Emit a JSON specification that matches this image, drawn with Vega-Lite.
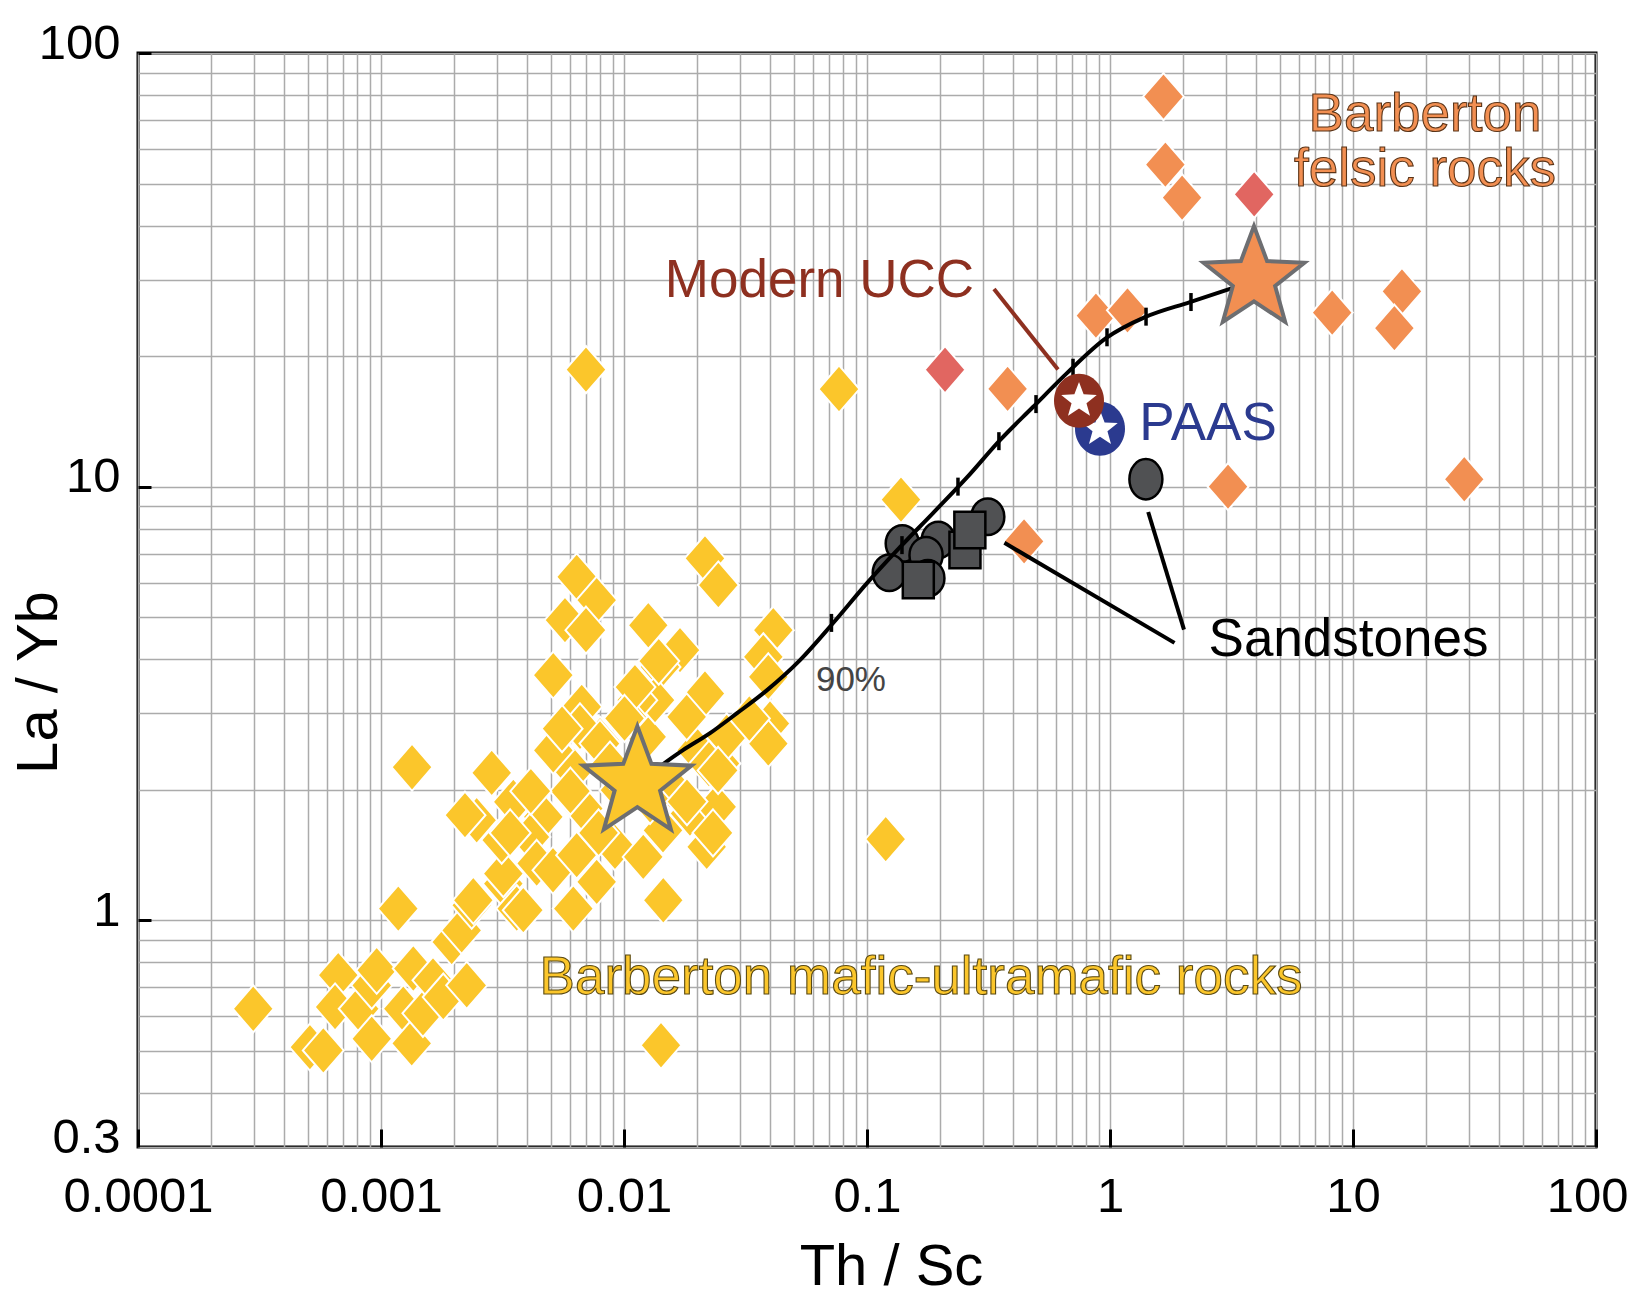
{
  "$schema": "https://vega.github.io/schema/vega-lite/v6.json",
  "width": 1458,
  "height": 1094,
  "autosize": {"type": "none"},
  "padding": {"left": 138, "top": 53, "right": 36, "bottom": 157},
  "background": "white",
  "config": {
    "view": {"stroke": "black", "strokeWidth": 3},
    "font": "Liberation Sans, Arial, sans-serif"
  },
  "datasets": {
    "mafic": [
      {"x":0.000298,"y":0.625},{"x":0.00051,"y":0.51},{"x":0.000579,"y":0.501},{"x":0.000667,"y":0.747},{"x":0.000647,"y":0.631},{"x":0.000814,"y":0.625},{"x":0.000916,"y":0.708},{"x":0.00096,"y":0.767},{"x":0.000916,"y":0.533},{"x":0.001178,"y":1.064},{"x":0.001358,"y":0.774},{"x":0.001235,"y":0.625},{"x":0.001338,"y":0.52},{"x":0.001488,"y":0.61},{"x":0.001637,"y":0.727},{"x":0.001804,"y":0.665},{"x":0.002253,"y":0.708},{"x":0.001954,"y":0.891},{"x":0.002148,"y":0.948},{"x":0.002362,"y":1.083},{"x":0.003187,"y":1.215},{"x":0.003618,"y":1.064},{"x":0.002398,"y":1.112},{"x":0.003187,"y":1.281},{"x":0.003851,"y":1.055},{"x":0.003139,"y":1.53},{"x":0.002476,"y":1.701},{"x":0.002216,"y":1.747},{"x":0.003503,"y":1.875},{"x":0.002855,"y":2.187},{"x":0.001342,"y":2.254},{"x":0.004655,"y":1.731},{"x":0.004104,"y":1.556},{"x":0.004372,"y":1.352},{"x":0.005104,"y":1.304},{"x":0.006388,"y":1.413},{"x":0.00772,"y":1.226},{"x":0.006185,"y":1.064},{"x":0.0068,"y":1.81},{"x":0.006185,"y":2.218},{"x":0.005117,"y":2.489},{"x":0.007965,"y":2.601},{"x":0.00918,"y":1.476},{"x":0.012,"y":1.4},{"x":0.01451,"y":1.112},{"x":0.01868,"y":1.763},{"x":0.02407,"y":1.826},{"x":0.02189,"y":1.476},{"x":0.01991,"y":2.466},{"x":0.02484,"y":2.299},{"x":0.0124,"y":2.647},{"x":0.01447,"y":1.612},{"x":0.02154,"y":6.83},{"x":0.02444,"y":5.93},{"x":0.006388,"y":6.193},{"x":0.00772,"y":5.473},{"x":0.005716,"y":4.92},{"x":0.006975,"y":4.667},{"x":0.01259,"y":4.79},{"x":0.017,"y":4.196},{"x":0.01406,"y":3.84},{"x":0.005117,"y":3.675},{"x":0.02154,"y":3.334},{"x":0.01342,"y":3.218},{"x":0.01128,"y":3.218},{"x":0.0067,"y":3.105},{"x":0.00659,"y":2.792},{"x":0.007965,"y":2.556},{"x":0.005117,"y":2.466},{"x":0.04116,"y":4.667},{"x":0.03744,"y":4.05},{"x":0.03925,"y":3.64},{"x":0.03989,"y":2.843},{"x":0.03925,"y":2.556},{"x":0.02646,"y":2.647},{"x":0.01811,"y":2.944},{"x":0.01026,"y":2.944},{"x":0.02238,"y":2.29},{"x":0.01546,"y":2.048},{"x":0.0142,"y":0.515},{"x":0.006975,"y":18.62},{"x":0.07669,"y":16.79},{"x":0.138,"y":9.33},{"x":0.1194,"y":1.538},{"x":0.00963,"y":1.995},{"x":0.0128,"y":1.891},{"x":0.00876,"y":2.278},
      {"x":0.0139,"y":3.96},{"x":0.01109,"y":3.45},{"x":0.01005,"y":2.92},{"x":0.00556,"y":2.766},{"x":0.00602,"y":1.985},{"x":0.00786,"y":1.59},{"x":0.01816,"y":1.878},{"x":0.0244,"y":2.216},{"x":0.0328,"y":2.92},{"x":0.02324,"y":1.59},{"x":0.004137,"y":1.985},{"x":0.0034,"y":1.59}
    ],
    "felsic": [
      {"x":1.66,"y":79.3},{"x":1.69,"y":55.3},{"x":1.98,"y":46.4},{"x":0.875,"y":24.8},{"x":1.18,"y":25.5},{"x":8.21,"y":25.2},{"x":15.9,"y":28.2},{"x":14.8,"y":23.2},{"x":0.379,"y":16.8},{"x":3.06,"y":10.0},{"x":28.7,"y":10.4},{"x":0.443,"y":7.48}
    ],
    "felsicRed": [
      {"x":3.92,"y":47.2},{"x":0.2095,"y":18.6}
    ],
    "sandCircles": [
      {"x":0.1397,"y":7.39},{"x":0.1235,"y":6.33},{"x":0.1965,"y":7.53},{"x":0.175,"y":6.95},{"x":0.314,"y":8.52},{"x":0.178,"y":6.15}
    ],
    "sandEllipse": [
      {"x":1.405,"y":10.4}
    ],
    "sandSquares": [
      {"x":0.1626,"y":6.09},{"x":0.253,"y":7.14},{"x":0.265,"y":7.94}
    ],
    "mixing": [
      {"i":0,"x":0.01135,"y":2.07},{"i":1,"x":0.01749,"y":2.467},{"i":2,"x":0.0226,"y":2.701},{"i":3,"x":0.0292,"y":3.003},{"i":4,"x":0.0388,"y":3.394},{"i":5,"x":0.053,"y":3.98},{"i":6,"x":0.0724,"y":4.84},{"i":7,"x":0.1,"y":5.99},{"i":8,"x":0.1367,"y":7.25},{"i":9,"x":0.1869,"y":8.69},{"i":10,"x":0.2579,"y":10.5},{"i":11,"x":0.3526,"y":12.8},{"i":12,"x":0.482,"y":15.26},{"i":13,"x":0.665,"y":18.27},{"i":14,"x":0.963,"y":22.0},{"i":15,"x":1.393,"y":24.6},{"i":16,"x":2.134,"y":26.65},{"i":17,"x":3.913,"y":29.8}
    ],
    "mixTicks": [
      {"x":0.0714,"y":4.85},{"x":0.1393,"y":7.33},{"x":0.2368,"y":10.0},{"x":0.349,"y":12.73},{"x":0.496,"y":15.5},{"x":0.7044,"y":18.8},{"x":0.972,"y":22.1},{"x":1.407,"y":24.66},{"x":2.154,"y":26.65}
    ]
  },
  "encoding": {
    "x": {"field": "x", "type": "quantitative", "scale": {"type": "log", "domain": [0.0001, 100], "nice": false}},
    "y": {"field": "y", "type": "quantitative", "scale": {"type": "log", "domain": [0.3, 100], "nice": false}}
  },
  "layer": [
    {
      "data": {"name": "mafic"},
      "mark": {"type": "point", "shape": "M0,-1.15L1,0L0,1.15L-1,0Z", "filled": true, "fill": "#FBC62B", "stroke": "white", "strokeWidth": 2, "size": 1681, "opacity": 1},
      "encoding": {
        "x": {"field": "x", "type": "quantitative", "scale": {"type": "log", "domain": [0.0001, 100], "nice": false},
          "axis": {
            "title": "Th / Sc",
            "values": [0.0001,0.0002,0.0003,0.0004,0.0005,0.0006,0.0007,0.0008,0.0009,0.001,0.002,0.003,0.004,0.005,0.006,0.007,0.008,0.009,0.01,0.02,0.03,0.04,0.05,0.06,0.07,0.08,0.09,0.1,0.2,0.3,0.4,0.5,0.6,0.7,0.8,0.9,1,2,3,4,5,6,7,8,9,10,20,30,40,50,60,70,80,90,100],
            "grid": true, "gridColor": "#ababab", "gridWidth": 1.5, "gridOpacity": 1,
            "domain": false,
            "ticks": true, "tickSize": -18, "tickWidth": 3, "tickColor": "black",
            "tickOpacity": {"condition": {"test": "abs(log(datum.value)/LN10 - round(log(datum.value)/LN10)) < 0.001", "value": 1}, "value": 0},
            "labelExpr": "abs(log(datum.value)/LN10 - round(log(datum.value)/LN10)) < 0.001 ? format(datum.value, '~g') : ''",
            "labelFont": "Liberation Sans, Arial, sans-serif", "labelFontSize": 49, "labelColor": "black",
            "labelPadding": 43, "labelOverlap": false, "labelFlush": false, "labelBaseline": "top",
            "labelOffset": {"condition": {"test": "datum.value > 50", "value": -9}, "value": 0},
            "titleFont": "Liberation Sans, Arial, sans-serif", "titleFontSize": 58, "titleFontWeight": "normal", "titleColor": "black",
            "titleX": 753, "titleY": 120, "titleBaseline": "middle", "titleAlign": "center"
          }
        },
        "y": {"field": "y", "type": "quantitative", "scale": {"type": "log", "domain": [0.3, 100], "nice": false},
          "axis": {
            "title": "La / Yb",
            "values": [0.3,0.4,0.5,0.6,0.7,0.8,0.9,1,2,3,4,5,6,7,8,9,10,20,30,40,50,60,70,80,90,100],
            "grid": true, "gridColor": "#ababab", "gridWidth": 1.5, "gridOpacity": 1,
            "domain": false,
            "ticks": true, "tickSize": -13, "tickWidth": 3, "tickColor": "black",
            "tickOpacity": {"condition": {"test": "abs(log(datum.value)/LN10 - round(log(datum.value)/LN10)) < 0.001", "value": 1}, "value": 0},
            "labelExpr": "(abs(log(datum.value)/LN10 - round(log(datum.value)/LN10)) < 0.001 || abs(datum.value - 0.3) < 0.001) ? format(datum.value, '~g') : ''",
            "labelFont": "Liberation Sans, Arial, sans-serif", "labelFontSize": 49, "labelColor": "black",
            "labelPadding": 31, "labelOverlap": false, "labelFlush": false, "labelBaseline": "middle", "labelOffset": -10,
            "titleFont": "Liberation Sans, Arial, sans-serif", "titleFontSize": 58, "titleFontWeight": "normal", "titleColor": "black",
            "titleX": -99, "titleY": 629, "titleBaseline": "middle", "titleAlign": "center", "titleAngle": -90
          }
        }
      }
    },
    {
      "data": {"name": "felsic"},
      "mark": {"type": "point", "shape": "M0,-1.15L1,0L0,1.15L-1,0Z", "filled": true, "fill": "#F28F52", "stroke": "white", "strokeWidth": 2, "size": 1681, "opacity": 1}
    },
    {
      "data": {"name": "felsicRed"},
      "mark": {"type": "point", "shape": "M0,-1.15L1,0L0,1.15L-1,0Z", "filled": true, "fill": "#E16661", "stroke": "white", "strokeWidth": 2, "size": 1681, "opacity": 1}
    },
    {
      "data": {"name": "sandCircles"},
      "mark": {"type": "point", "shape": "M-1,0A1,1.1 0 1,1 1,0A1,1.1 0 1,1 -1,0Z", "filled": true, "fill": "#505153", "stroke": "black", "strokeWidth": 2.5, "size": 1100, "opacity": 1}
    },
    {
      "data": {"name": "sandEllipse"},
      "mark": {"type": "point", "shape": "M-1,0A1,1.22 0 1,1 1,0A1,1.22 0 1,1 -1,0Z", "filled": true, "fill": "#505153", "stroke": "black", "strokeWidth": 2.5, "size": 1089, "opacity": 1}
    },
    {
      "data": {"name": "sandSquares"},
      "mark": {"type": "point", "shape": "M-1,-1.18L1,-1.18L1,1.18L-1,1.18Z", "filled": true, "fill": "#505153", "stroke": "black", "strokeWidth": 2.5, "size": 961, "opacity": 1}
    },
    {
      "data": {"name": "mixing"},
      "mark": {"type": "line", "color": "black", "strokeWidth": 4, "interpolate": "monotone"},
      "encoding": {"order": {"field": "i", "type": "quantitative"}}
    },
    {
      "data": {"name": "mixTicks"},
      "mark": {"type": "point", "shape": "M0,-1L0,1", "filled": false, "stroke": "black", "strokeWidth": 3.5, "size": 324, "opacity": 1}
    },
    {
      "data": {"values": [{"x":0.3332,"y":28.55,"x2":0.611,"y2":18.62}]},
      "mark": {"type": "rule", "color": "#8E3020", "strokeWidth": 4},
      "encoding": {"x2": {"field": "x2"}, "y2": {"field": "y2"}}
    },
    {
      "data": {"values": [{"x":0.3676,"y":7.42,"x2":1.843,"y2":4.362},{"x":1.436,"y":8.74,"x2":2.016,"y2":4.68}]},
      "mark": {"type": "rule", "color": "black", "strokeWidth": 4},
      "encoding": {"x2": {"field": "x2"}, "y2": {"field": "y2"}}
    },
    {
      "data": {"values": [{"x":0.01135,"y":2.07}]},
      "mark": {"type": "point", "shape": "M0,-1L0.247,-0.34L0.951,-0.309L0.399,0.13L0.588,0.809L0,0.42L-0.588,0.809L-0.399,0.13L-0.951,-0.309L-0.247,-0.34Z", "filled": true, "fill": "#FBC62B", "stroke": "#6D6E71", "strokeWidth": 4, "size": 12996, "opacity": 1}
    },
    {
      "data": {"values": [{"x":3.913,"y":30.1}]},
      "mark": {"type": "point", "shape": "M0,-1L0.247,-0.34L0.951,-0.309L0.399,0.13L0.588,0.809L0,0.42L-0.588,0.809L-0.399,0.13L-0.951,-0.309L-0.247,-0.34Z", "filled": true, "fill": "#F28F52", "stroke": "#6D6E71", "strokeWidth": 4, "size": 11236, "opacity": 1}
    },
    {
      "data": {"values": [{"x":0.9095,"y":13.59}]},
      "mark": {"type": "point", "shape": "M-1,0A1,1.08 0 1,1 1,0A1,1.08 0 1,1 -1,0Z", "filled": true, "fill": "#2B3A8F", "strokeWidth": 0, "size": 2500, "opacity": 1}
    },
    {
      "data": {"values": [{"x":0.9095,"y":13.59}]},
      "mark": {"type": "point", "shape": "M0,-1L0.247,-0.34L0.951,-0.309L0.399,0.13L0.588,0.809L0,0.42L-0.588,0.809L-0.399,0.13L-0.951,-0.309L-0.247,-0.34Z", "filled": true, "fill": "white", "strokeWidth": 0, "size": 1400, "opacity": 1}
    },
    {
      "data": {"values": [{"x":0.7455,"y":15.78}]},
      "mark": {"type": "point", "shape": "M-1,0A1,1.08 0 1,1 1,0A1,1.08 0 1,1 -1,0Z", "filled": true, "fill": "#8E3020", "strokeWidth": 0, "size": 2500, "opacity": 1}
    },
    {
      "data": {"values": [{"x":0.7455,"y":15.78}]},
      "mark": {"type": "point", "shape": "M0,-1L0.247,-0.34L0.951,-0.309L0.399,0.13L0.588,0.809L0,0.42L-0.588,0.809L-0.399,0.13L-0.951,-0.309L-0.247,-0.34Z", "filled": true, "fill": "white", "strokeWidth": 0, "size": 1400, "opacity": 1}
    },
    {
      "data": {"values": [{"x":0.06375,"y":29.79,"t":"Modern UCC"}]},
      "mark": {"type": "text", "fill": "#8E3020", "fontSize": 53, "align": "center", "baseline": "middle"},
      "encoding": {"text": {"field": "t"}}
    },
    {
      "data": {"values": [{"x":2.531,"y":13.94,"t":"PAAS"}]},
      "mark": {"type": "text", "fill": "#2B3A8F", "fontSize": 53, "align": "center", "baseline": "middle"},
      "encoding": {"text": {"field": "t"}}
    },
    {
      "data": {"values": [{"x":19.78,"y":72.13,"t":"Barberton"},{"x":19.78,"y":53.83,"t":"felsic rocks"}]},
      "mark": {"type": "text", "fill": "#F28F52", "stroke": "#5A3418", "strokeWidth": 1.1, "fontSize": 53, "align": "center", "baseline": "middle"},
      "encoding": {"text": {"field": "t"}}
    },
    {
      "data": {"values": [{"x":0.1668,"y":0.7349,"t":"Barberton mafic-ultramafic rocks"}]},
      "mark": {"type": "text", "fill": "#FBC62B", "stroke": "#5A4A14", "strokeWidth": 1.1, "fontSize": 53, "align": "center", "baseline": "middle"},
      "encoding": {"text": {"field": "t"}}
    },
    {
      "data": {"values": [{"x":9.583,"y":4.426,"t":"Sandstones"}]},
      "mark": {"type": "text", "fill": "black", "fontSize": 53, "align": "center", "baseline": "middle"},
      "encoding": {"text": {"field": "t"}}
    },
    {
      "data": {"values": [{"x":0.0859,"y":3.578,"t":"90%"}]},
      "mark": {"type": "text", "fill": "#444444", "fontSize": 35, "align": "center", "baseline": "middle"},
      "encoding": {"text": {"field": "t"}}
    }
  ]
}
